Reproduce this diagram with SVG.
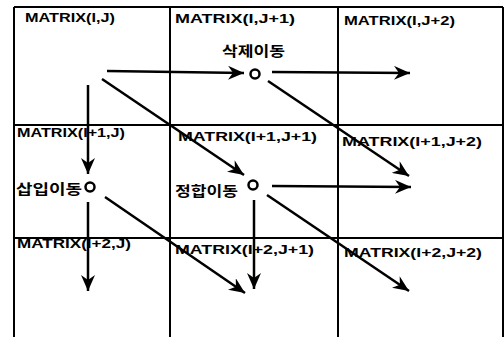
<svg xmlns="http://www.w3.org/2000/svg" width="504" height="337" viewBox="0 0 504 337">
<defs>
<marker id="ah" markerUnits="userSpaceOnUse" markerWidth="18" markerHeight="14" refX="16" refY="7" orient="auto">
<path d="M0,0 L16,7 L0,14 L5,7 z" fill="#000"/>
</marker>
<style>
.grid{stroke:#000;stroke-width:2;fill:none}
.lbl{font-family:"Liberation Sans",Arial,sans-serif;font-size:13px;font-weight:bold;fill:#000}
.kor{font-family:"Noto Sans CJK KR","Noto Sans CJK SC",sans-serif;font-size:14px;font-weight:bold;fill:#000}
.arr{stroke:#000;stroke-width:2.5;fill:none;marker-end:url(#ah)}
.node{stroke:#000;stroke-width:2.5;fill:#fff}
</style>
</defs>
<rect width="504" height="337" fill="#fff"/>
<g id="grid">
<path class="grid" d="M14,7 L503,7 M14,7 L14,337 M170,7 L170,337 M338,7 L338,337 M503,7 L503,337 M14,125 L503,125 M14,238 L503,238"/>
</g>
<g id="cells">
<text class="lbl" x="25" y="22" textLength="90" lengthAdjust="spacingAndGlyphs">MATRIX(I,J)</text>
<text class="lbl" x="175" y="23" textLength="120" lengthAdjust="spacingAndGlyphs">MATRIX(I,J+1)</text>
<text class="lbl" x="344" y="25" textLength="111" lengthAdjust="spacingAndGlyphs">MATRIX(I,J+2)</text>
<text class="lbl" x="17" y="137" textLength="108" lengthAdjust="spacingAndGlyphs">MATRIX(I+1,J)</text>
<text class="lbl" x="178" y="141" textLength="139" lengthAdjust="spacingAndGlyphs">MATRIX(I+1,J+1)</text>
<text class="lbl" x="342" y="146" textLength="140" lengthAdjust="spacingAndGlyphs">MATRIX(I+1,J+2)</text>
<text class="lbl" x="17" y="248" textLength="114" lengthAdjust="spacingAndGlyphs">MATRIX(I+2,J)</text>
<text class="lbl" x="175" y="254" textLength="139" lengthAdjust="spacingAndGlyphs">MATRIX(I+2,J+1)</text>
<text class="lbl" x="344" y="257" textLength="138" lengthAdjust="spacingAndGlyphs">MATRIX(I+2,J+2)</text>
</g>
<g id="connectors">
<line class="arr" x1="107" y1="71" x2="244" y2="73"/>
<line class="arr" x1="102" y1="79" x2="244" y2="175"/>
<line class="arr" x1="88" y1="85" x2="88" y2="174"/>
<line class="arr" x1="272" y1="72" x2="410" y2="73"/>
<line class="arr" x1="268" y1="81" x2="409" y2="176"/>
<line class="arr" x1="88" y1="202" x2="88" y2="291"/>
<line class="arr" x1="105" y1="197" x2="245" y2="293"/>
<line class="arr" x1="272" y1="186" x2="411" y2="187"/>
<line class="arr" x1="267" y1="195" x2="409" y2="291"/>
<line class="arr" x1="254" y1="200" x2="254" y2="289"/>
</g>
<g id="delete">
<circle class="node" cx="255" cy="74" r="4.5"/>
<text class="kor" x="222" y="56" textLength="63" lengthAdjust="spacingAndGlyphs">삭제이동</text>
</g>
<g id="insert">
<circle class="node" cx="90" cy="187" r="4.5"/>
<text class="kor" x="16" y="194" textLength="66" lengthAdjust="spacingAndGlyphs">삽입이동</text>
</g>
<g id="match">
<circle class="node" cx="253" cy="185" r="4.5"/>
<text class="kor" x="175" y="196" textLength="63" lengthAdjust="spacingAndGlyphs">정합이동</text>
</g>
</svg>
